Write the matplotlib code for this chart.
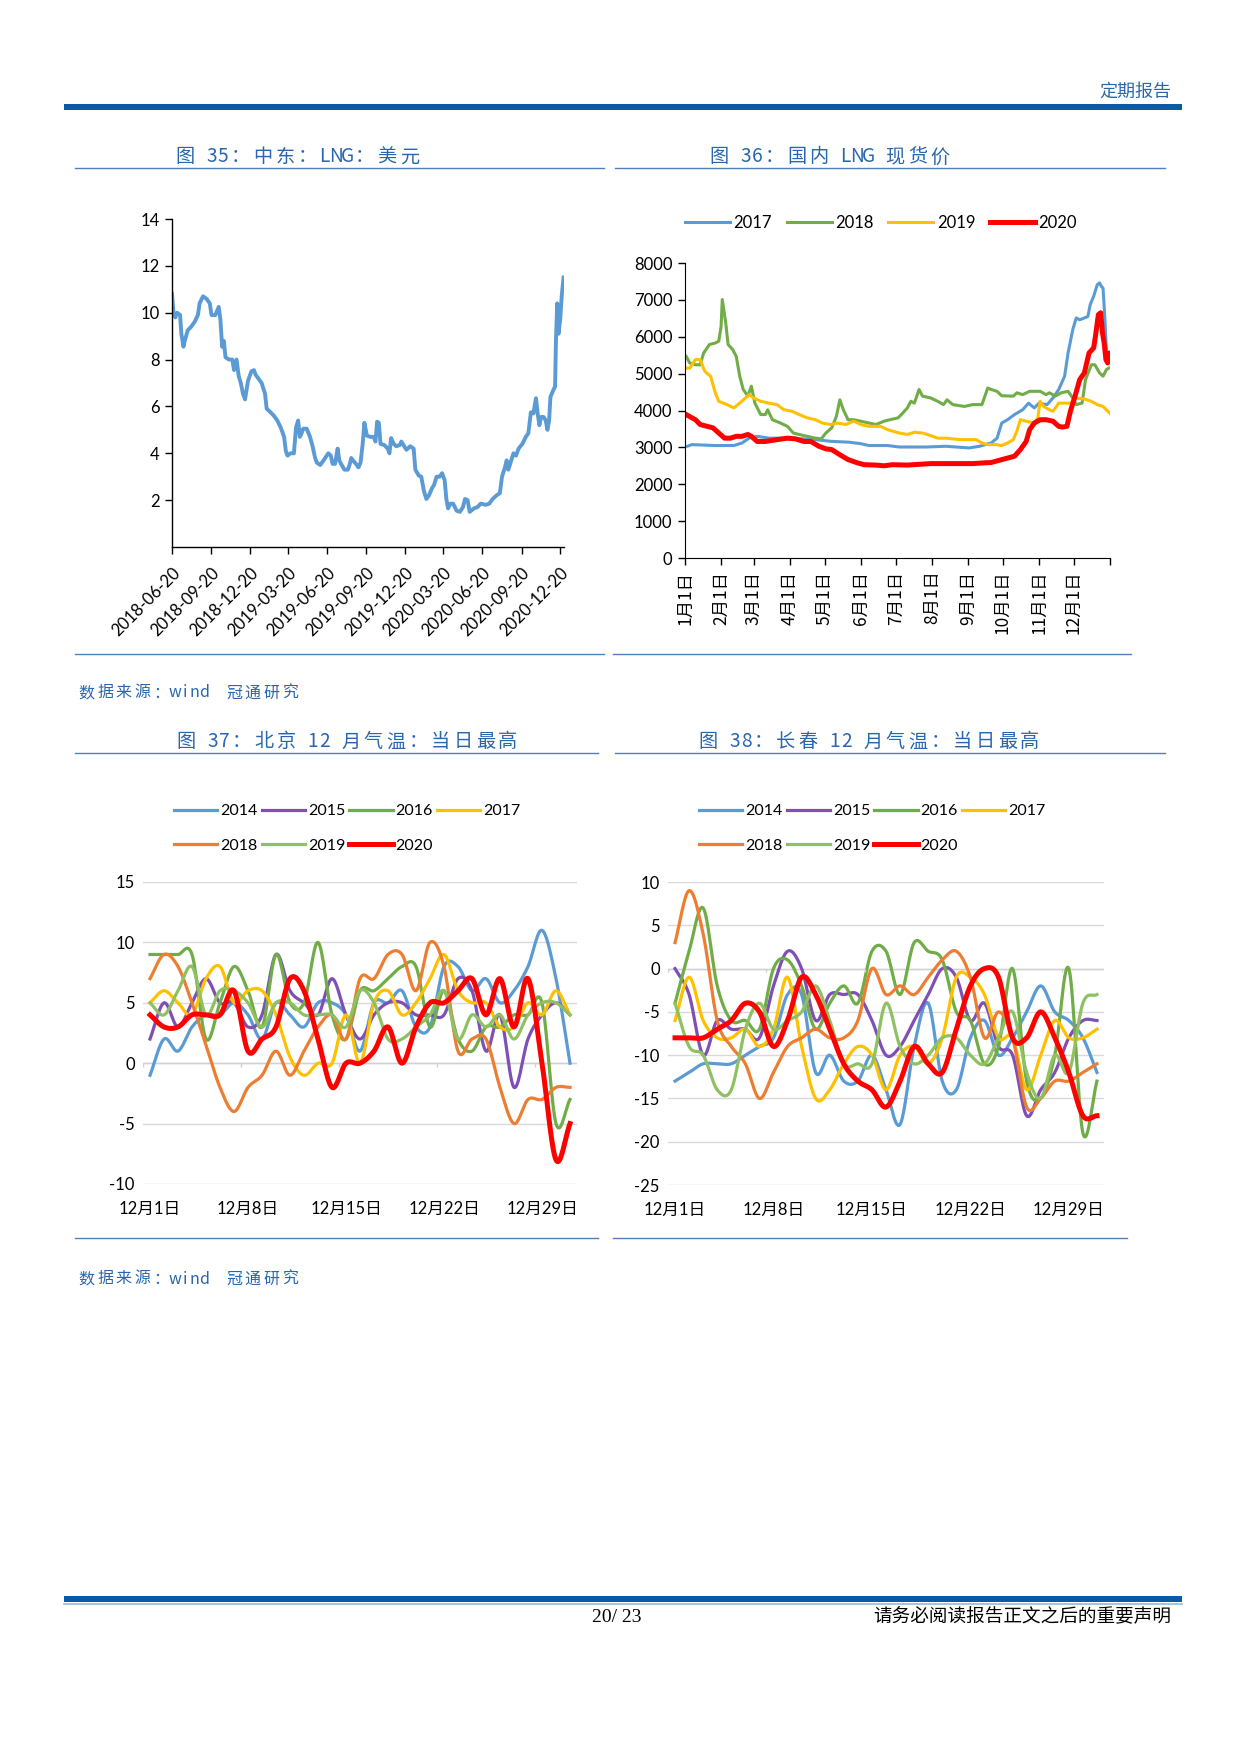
import numpy as np
import pandas as pd
import matplotlib
matplotlib.use('Agg')
import matplotlib.pyplot as plt
from matplotlib.lines import Line2D
from matplotlib.patches import Rectangle

CJK = ['Noto Sans CJK SC', 'DejaVu Sans']
NUM = ['Lato', 'Noto Sans CJK SC', 'DejaVu Sans']
plt.rcParams['font.family'] = NUM
plt.rcParams['axes.unicode_minus'] = False

W, H = 1241, 1754
BLUE_TXT = '#2a66ad'
LINE_BLUE = '#4f7fbf'

# ---------- 图35 中东LNG 美元 ----------
lng_dates = ['2018-06-20', '2018-06-24', '2018-06-28', '2018-07-02', '2018-07-09', '2018-07-12', '2018-07-17',
             '2018-07-20', '2018-07-27', '2018-08-04', '2018-08-12', '2018-08-20', '2018-08-24', '2018-09-01',
             '2018-09-09', '2018-09-17', '2018-09-21', '2018-09-30', '2018-10-08', '2018-10-12', '2018-10-16',
             '2018-10-20', '2018-10-24', '2018-11-01', '2018-11-09', '2018-11-13', '2018-11-19', '2018-11-24',
             '2018-11-29', '2018-12-04', '2018-12-09', '2018-12-16', '2018-12-24', '2018-12-30', '2019-01-03',
             '2019-01-09', '2019-01-17', '2019-01-25', '2019-01-29', '2019-02-07', '2019-02-15', '2019-02-23',
             '2019-03-03', '2019-03-11', '2019-03-15', '2019-03-19', '2019-03-26', '2019-04-03', '2019-04-08',
             '2019-04-13', '2019-04-17', '2019-04-21', '2019-04-25', '2019-05-03', '2019-05-11', '2019-05-17',
             '2019-05-23', '2019-05-27', '2019-06-04', '2019-06-12', '2019-06-23', '2019-06-29', '2019-07-03',
             '2019-07-09', '2019-07-15', '2019-07-19', '2019-07-23', '2019-07-31', '2019-08-08', '2019-08-12',
             '2019-08-16', '2019-08-20', '2019-08-27', '2019-09-02', '2019-09-07', '2019-09-12', '2019-09-16',
             '2019-09-22', '2019-09-30', '2019-10-08', '2019-10-12', '2019-10-16', '2019-10-20', '2019-10-24',
             '2019-11-02', '2019-11-10', '2019-11-14', '2019-11-18', '2019-11-24', '2019-11-30', '2019-12-08',
             '2019-12-12', '2019-12-19', '2019-12-24', '2020-01-02', '2020-01-10', '2020-01-14', '2020-01-22',
             '2020-01-28', '2020-02-03', '2020-02-09', '2020-02-15', '2020-02-22', '2020-02-27', '2020-03-04',
             '2020-03-11', '2020-03-17', '2020-03-23', '2020-03-27', '2020-03-31', '2020-04-06', '2020-04-12',
             '2020-04-20', '2020-04-28', '2020-05-05', '2020-05-10', '2020-05-16', '2020-05-21', '2020-05-31',
             '2020-06-08', '2020-06-16', '2020-06-28', '2020-07-06', '2020-07-14', '2020-07-23', '2020-07-31',
             '2020-08-05', '2020-08-12', '2020-08-16', '2020-08-20', '2020-08-27', '2020-09-01', '2020-09-07',
             '2020-09-13', '2020-09-22', '2020-09-30', '2020-10-06', '2020-10-12', '2020-10-18', '2020-10-24',
             '2020-10-28', '2020-11-01', '2020-11-05', '2020-11-11', '2020-11-16', '2020-11-20', '2020-11-24',
             '2020-11-27', '2020-12-04', '2020-12-08', '2020-12-10', '2020-12-13', '2020-12-16', '2020-12-20',
             '2020-12-24', '2020-12-28']
lng_vals = [10.8, 9.9, 9.8, 10.0, 9.9, 9.1, 8.55, 8.8, 9.25, 9.4, 9.6, 9.9, 10.4, 10.7,
            10.6, 10.4, 9.9, 9.9, 10.25, 9.7, 8.55, 8.8, 8.1, 8.0, 8.0, 7.55, 8.0, 7.3,
            7.0, 6.55, 6.3, 7.1, 7.5, 7.55, 7.35, 7.2, 7.0, 6.55, 5.9, 5.75, 5.6, 5.4,
            5.1, 4.7, 4.1, 3.9, 4.0, 4.0, 5.1, 5.4, 4.7, 4.85, 5.05, 5.05, 4.7, 4.3,
            3.8, 3.6, 3.5, 3.7, 4.0, 3.9, 3.55, 3.55, 4.2, 3.7, 3.55, 3.3, 3.3, 3.5,
            3.8, 3.7, 3.55, 3.4, 3.6, 4.4, 5.3, 4.75, 4.7, 4.7, 4.5, 5.35, 5.3, 4.4,
            4.35, 4.2, 4.0, 4.65, 4.4, 4.3, 4.35, 4.5, 4.3, 4.15, 4.3, 4.2, 3.3, 3.05,
            3.0, 2.4, 2.05, 2.2, 2.5, 2.65, 3.0, 3.0, 3.15, 2.85, 2.05, 1.65, 1.85, 1.85,
            1.55, 1.5, 1.7, 2.05, 2.0, 1.5, 1.65, 1.7, 1.85, 1.8, 1.85, 2.05, 2.2, 2.3,
            3.0, 3.4, 3.7, 3.3, 3.7, 4.0, 3.9, 4.2, 4.4, 4.7, 4.85, 5.75, 5.7, 6.35,
            5.7, 5.2, 5.55, 5.55, 5.4, 5.0, 5.4, 6.4, 6.7, 6.85, 8.8, 10.4, 9.1, 9.7,
            10.8, 11.5]
lng_ticks = ['2018-06-20', '2018-09-20', '2018-12-20', '2019-03-20', '2019-06-20', '2019-09-20',
             '2019-12-20', '2020-03-20', '2020-06-20', '2020-09-20', '2020-12-20']

# ---------- 图36 国内LNG现货价 ----------
month_days = [0, 31, 59, 90, 120, 151, 181, 212, 243, 273, 304, 334]
month_labels = ['1月1日', '2月1日', '3月1日', '4月1日', '5月1日', '6月1日',
                '7月1日', '8月1日', '9月1日', '10月1日', '11月1日', '12月1日']

d2017 = [2, 6, 26, 42, 49, 55, 62, 72, 92, 112, 125, 141, 151, 158, 174, 184, 207, 224, 244, 253,
         263, 268, 272, 277, 283, 290, 295, 300, 304, 311, 316, 321, 326, 329, 333, 336, 339, 343,
         346, 348, 351, 354, 356, 357.5, 359, 360.5, 362, 364]
v2017 = [3030, 3075, 3050, 3050, 3120, 3250, 3300, 3250, 3250, 3210, 3165, 3140, 3100, 3050, 3050,
         3010, 3010, 3030, 2985, 3030, 3120, 3250, 3660, 3750, 3890, 4020, 4200, 4070, 4200, 4160,
         4340, 4570, 4930, 5560, 6190, 6510, 6460, 6510, 6550, 6870, 7100, 7410, 7460, 7370, 7320,
         6550, 5560, 5330]

d2018 = [1, 4, 9, 13, 16, 21, 26, 29, 31, 32, 35, 37, 41, 44, 47, 50, 54, 57, 60, 65, 69, 71, 75,
         82, 88, 93, 98, 105, 112, 117, 121, 126, 130, 133, 136, 140, 145, 151, 158, 164, 171, 176,
         183, 187, 191, 194, 197, 201, 204, 211, 217, 222, 225, 230, 240, 247, 255, 260, 263, 268,
         272, 282, 285, 290, 296, 305, 310, 313, 318, 323, 329, 333, 336, 341, 344, 349, 352, 356,
         359, 362, 364]
v2018 = [5470, 5290, 5240, 5240, 5560, 5790, 5830, 5880, 6280, 7010, 6370, 5790, 5650, 5470, 4930,
         4570, 4390, 4660, 4200, 3890, 3890, 4020, 3750, 3660, 3570, 3390, 3350, 3300, 3250, 3230,
         3390, 3530, 3840, 4290, 4020, 3750, 3750, 3710, 3660, 3620, 3710, 3750, 3800, 3930, 4070,
         4250, 4200, 4570, 4390, 4340, 4250, 4160, 4290, 4160, 4110, 4160, 4160, 4610, 4570, 4520,
         4400, 4390, 4480, 4430, 4520, 4520, 4430, 4480, 4390, 4480, 4520, 4340, 4160, 4200, 4840,
         5240, 5240, 5020, 4930, 5110, 5150]

d2019 = [1, 4, 9, 13, 17, 22, 26, 29, 36, 42, 47, 55, 59, 65, 72, 79, 85, 92, 98, 105, 112, 118,
         125, 131, 138, 145, 151, 158, 168, 174, 184, 191, 197, 204, 211, 217, 224, 230, 237, 244,
         250, 255, 260, 267, 272, 277, 282, 285, 288, 293, 300, 303, 305, 308, 313, 316, 321, 326,
         331, 336, 343, 349, 354, 359, 365]
v2019 = [5150, 5150, 5380, 5380, 5060, 4930, 4480, 4250, 4160, 4070, 4200, 4430, 4340, 4250, 4200,
         4160, 4020, 3980, 3890, 3800, 3750, 3660, 3620, 3660, 3620, 3710, 3620, 3570, 3570, 3480,
         3390, 3350, 3410, 3390, 3320, 3250, 3250, 3230, 3210, 3210, 3210, 3120, 3075, 3075, 3050,
         3120, 3210, 3440, 3750, 3710, 3660, 3800, 4250, 4110, 4020, 3980, 4200, 4200, 4200, 4340,
         4310, 4250, 4160, 4110, 3920]

d2020 = [1, 6, 9, 13, 19, 24, 29, 34, 39, 44, 49, 54, 57, 62, 69, 79, 88, 95, 102, 108, 115, 121,
         126, 133, 140, 148, 154, 164, 171, 178, 191, 201, 211, 224, 237, 247, 257, 263, 270, 277,
         283, 288, 293, 296, 300, 305, 310, 316, 321, 324, 328, 331, 335, 339, 343, 347, 351, 352.5,
         355, 357, 358.5, 360, 361.5, 363, 364, 365]
v2020 = [3890, 3800, 3750, 3620, 3570, 3530, 3390, 3250, 3250, 3300, 3300, 3350, 3300, 3160, 3160,
         3210, 3250, 3230, 3160, 3160, 3030, 2960, 2940, 2800, 2670, 2580, 2530, 2520, 2500, 2530,
         2520, 2540, 2560, 2560, 2560, 2560, 2580, 2590, 2650, 2710, 2760, 2940, 3160, 3480, 3660,
         3750, 3750, 3710, 3570, 3550, 3570, 3980, 4390, 4840, 5020, 5560, 5700, 6010, 6600, 6650,
         6110, 5830, 5380, 5290, 5560, 5510]

# ---------- 图37/38 12月气温 ----------
days = list(range(1, 32))
day_ticks = [1, 8, 15, 22, 29]
day_labels = ['12月1日', '12月8日', '12月15日', '12月22日', '12月29日']
years = ['2014', '2015', '2016', '2017', '2018', '2019', '2020']
year_colors = ['#5b9bd5', '#7f4fb5', '#70ad47', '#ffc000', '#ed7d31', '#8fc062', '#ff0000']

bj_2014 = [-1, 2, 1, 3, 4, 4, 5, 4, 2, 5, 4, 3, 5, 5, 4, 1, 5, 5, 6, 3, 3, 8, 8, 6, 7, 5, 6, 8, 11, 7, 0]
bj_2015 = [2, 5, 3, 5, 7, 5, 5, 3, 4, 9, 6, 5, 4, 7, 4, 2, 4, 5, 5, 4, 4, 4, 7, 6, 1, 4, -2, 2, 4, 5, 4]
bj_2016 = [9, 9, 9, 9, 2, 5, 8, 6, 3, 9, 5, 5, 10, 4, 2, 6, 6, 7, 8, 8, 3, 6, 2, 1, 3, 3, 4, 4, 5, -5, -3]
bj_2017 = [5, 6, 5, 4, 7, 8, 5, 6, 6, 4, 0.5, -1, 0, 0, 4, 0, 5, 6, 4, 5, 7, 9, 6, 5, 5, 3, 3, 5, 4, 6, 4]
bj_2018 = [7, 9, 8, 5, 1.5, -2, -4, -2, -1, 1, -1, 1, 3, 4, 2, 7, 7, 9, 9, 6, 10, 8, 1, 2, 2, -2, -5, -3, -3, -2, -2]
bj_2019 = [5, 4, 6, 8, 4, 6, 6, 5, 3, 5, 5, 4, 4, 4, 3, 6, 5, 2, 2, 3, 4, 6, 2, 4, 3, 4, 2, 4, 5, 5, 4]
bj_2020 = [4, 3, 3, 4, 4, 4, 6, 1, 2, 3, 7, 6, 2, -2, 0, 0, 1, 3, 0, 3, 5, 5, 6, 7, 4, 7, 3, 7, 0, -8, -5]

cc_2014 = [-13, -12, -11, -11, -11, -10, -9, -8, -3, -3, -12, -10, -13, -13, -10, -14, -18, -9, -4, -13,
           -14, -8, -6, -10, -8, -5, -2, -5, -6, -8, -12]
cc_2015 = [0, -3, -10, -6, -7, -7, -8, -2, 2, 0, -6, -3, -3, -3, -6, -10, -9, -6, -3, 0, -1, -6, -4, -9,
           -10, -17, -14, -12, -8, -6, -6]
cc_2016 = [-4, 2, 7, -2, -6, -6, -7, 0, 1, -2, -7, -4, -2, -4, 2, 2, -3, 3, 2, 1, -5, -6, -11, -9, 0,
           -13, -15, -10, 0, -19, -13]
cc_2017 = [-6, -1, -6, -8, -8, -7, -9, -7, -1, -9, -15, -14, -11, -9, -10, -14, -10, -9, -11, -8, -1,
           -1, -3, -8, -8, -14, -10, -6, -8, -8, -7]
cc_2018 = [3, 9, 4, -6, -9, -11, -15, -12, -9, -8, -7, -8, -8, -6, 0, -3, -2, -3, -1, 1, 2, -1, -8, -5,
           -8, -16, -15, -13, -13, -12, -11]
cc_2019 = [-4, -9, -10, -14, -14, -7, -4, -7, -6, -5, -2, -6, -11, -11, -11, -4, -9, -11, -10, -8, -8,
           -10, -11, -8, -5, -12, -15, -10, -12, -4, -3]
cc_2020 = [-8, -8, -8, -7, -6, -4, -5, -9, -6, -1, -3, -7, -11, -13, -14, -16, -13, -9, -11, -12, -7,
           -2, 0, -1, -8, -8, -5, -8, -12, -17, -17]

bj_series = [bj_2014, bj_2015, bj_2016, bj_2017, bj_2018, bj_2019, bj_2020]
cc_series = [cc_2014, cc_2015, cc_2016, cc_2017, cc_2018, cc_2019, cc_2020]


def px_box(l, t, r, b):
    return [l / W, 1 - b / H, (r - l) / W, (b - t) / H]


def ftext(x, y, s, **kw):
    fig.text(x / W, 1 - y / H, s, **kw)


def spaced_text(x, y, s, fontsize, color, cjk_adv=1.2):
    """仿宋风格的等宽排布：逐字放置"""
    em = fontsize * 100 / 72
    for ch in s:
        if ord(ch) > 0x2e80:
            adv = cjk_adv * em
        elif ch == ' ':
            adv = 0.5 * em
        else:
            adv = 0.6 * em
        if ch != ' ':
            fig.text((x + adv / 2) / W, 1 - y / H, ch, fontsize=fontsize, color=color,
                     family=CJK, ha='center', va='center')
        x += adv


def hline(x0, x1, y, color=LINE_BLUE, lw=1.0):
    fig.add_artist(Line2D([x0 / W, x1 / W], [1 - y / H, 1 - y / H], transform=fig.transFigure,
                          color=color, lw=lw))


def bar(x0, x1, y0, h, color):
    fig.add_artist(Rectangle((x0 / W, 1 - (y0 + h) / H), (x1 - x0) / W, h / H,
                             transform=fig.transFigure, color=color, lw=0))


def smooth(x, y, n=16):
    """Excel式平滑曲线 (Catmull-Rom)"""
    x = np.asarray(x, float)
    y = np.asarray(y, float)
    px = np.r_[2 * x[0] - x[1], x, 2 * x[-1] - x[-2]]
    py = np.r_[2 * y[0] - y[1], y, 2 * y[-1] - y[-2]]
    t = np.linspace(0, 1, n, endpoint=False)
    xs, ys = [], []
    for i in range(1, len(px) - 2):
        for p, out in ((px, xs), (py, ys)):
            p0, p1, p2, p3 = p[i - 1], p[i], p[i + 1], p[i + 2]
            out.append(0.5 * (2 * p1 + (-p0 + p2) * t + (2 * p0 - 5 * p1 + 4 * p2 - p3) * t ** 2
                              + (-p0 + 3 * p1 - 3 * p2 + p3) * t ** 3))
    xs.append([x[-1]])
    ys.append([y[-1]])
    return np.concatenate(xs), np.concatenate(ys)


fig = plt.figure(figsize=(W / 100, H / 100), dpi=100)

# ---------- 页眉页脚 ----------
ftext(1171, 92, '定期报告', ha='right', va='center', fontsize=13, color=BLUE_TXT, family=CJK)
bar(64, 1182, 104, 6, '#0b5aa8')
bar(64, 1182, 1596, 6, '#0b5aa8')
hline(64, 1182, 1603.5, color='#8fbbe3', lw=1.2)
ftext(617, 1617, '20/ 23', ha='center', va='center', fontsize=14,
      family=['Liberation Serif', 'DejaVu Serif'], color='black')
ftext(1171, 1617, '请务必阅读报告正文之后的重要声明', ha='right', va='center', fontsize=13.4,
      family=CJK, color='black')

# ---------- 标题与分隔线 ----------
spaced_text(174, 157, '图 35：中东：LNG：美元', 13.8, BLUE_TXT, cjk_adv=1.17)
spaced_text(708, 157, '图 36：国内 LNG 现货价', 13.8, BLUE_TXT, cjk_adv=1.17)
hline(75, 604, 168)
hline(615, 1165, 168)
hline(75, 604, 654)
hline(613, 1131, 654)
spaced_text(77, 693, '数据来源：wind  冠通研究', 11.5, BLUE_TXT, cjk_adv=1.17)
spaced_text(175, 742, '图 37：北京 12 月气温：当日最高', 13.8, BLUE_TXT, cjk_adv=1.17)
spaced_text(697, 742, '图 38：长春 12 月气温：当日最高', 13.8, BLUE_TXT, cjk_adv=1.17)
hline(75, 598, 753)
hline(615, 1165, 753)
hline(75, 598, 1238)
hline(613, 1127, 1238)
spaced_text(77, 1279, '数据来源：wind  冠通研究', 11.5, BLUE_TXT, cjk_adv=1.17)

# ---------- 图35 ----------
ax1 = fig.add_axes(px_box(172, 219, 564, 547))
ax1.plot(pd.to_datetime(lng_dates), lng_vals, color='#5b9bd5', lw=2.8, solid_joinstyle='round')
ax1.set_ylim(0, 14)
ax1.set_yticks(range(2, 15, 2))
ax1.set_xlim(pd.Timestamp('2018-06-20'), pd.Timestamp('2020-12-29'))
ax1.set_xticks(pd.to_datetime(lng_ticks))
ax1.set_xticklabels(lng_ticks, rotation=45, ha='right', va='top', rotation_mode='anchor')
for s in ['top', 'right']:
    ax1.spines[s].set_visible(False)
for s in ['left', 'bottom']:
    ax1.spines[s].set_linewidth(1.0)
ax1.tick_params(direction='out', length=5, width=1, labelsize=12, pad=4)
ax1.tick_params(axis='x', pad=8)

# ---------- 图36 ----------
ax2 = fig.add_axes(px_box(685, 263, 1110, 558))
ax2.plot(d2017, v2017, color='#5b9bd5', lw=2.2, label='2017')
ax2.plot(d2018, v2018, color='#70ad47', lw=2.2, label='2018')
ax2.plot(d2019, v2019, color='#ffc000', lw=2.2, label='2019')
ax2.plot(d2020, v2020, color='#ff0000', lw=3.6, label='2020')
ax2.set_ylim(0, 8000)
ax2.set_yticks(range(0, 8001, 1000))
ax2.set_xlim(0, 365)
ax2.set_xticks(month_days)
ax2.set_xticklabels(month_labels, rotation=90, ha='center', va='top', family=CJK)
ax2.set_xticks([365], minor=True)
for s in ['top', 'right']:
    ax2.spines[s].set_visible(False)
ax2.tick_params(which='both', direction='out', length=5, width=1, labelsize=12, pad=4)
for lab in ax2.get_xticklabels():
    lab.set_fontsize(12.5)
ax2.legend(loc='center', bbox_to_anchor=(881 / W, 1 - 223 / H), bbox_transform=fig.transFigure,
           ncol=4, frameon=False, fontsize=12, handlelength=2.7, handletextpad=0.2,
           columnspacing=0.9, borderpad=0, borderaxespad=0)


# ---------- 图37/38 ----------
def temp_chart(box, series, ylim, lx, ly):
    ax = fig.add_axes(px_box(*box))
    lines = []
    for name, vals, c in zip(years, series, year_colors):
        xs, ys = smooth(days, vals)
        lw = 3.6 if name == '2020' else 2.3
        ln, = ax.plot(xs, ys, color=c, lw=lw, label=name, zorder=3 if name == '2020' else 2)
        lines.append(ln)
    ax.set_xlim(0.5, 31.5)
    ax.set_ylim(*ylim)
    ax.set_yticks(range(ylim[0], ylim[1] + 1, 5))
    ax.grid(axis='y', color='#d9d9d9', lw=1)
    ax.set_axisbelow(True)
    for s in ax.spines.values():
        s.set_visible(False)
    ax.axhline(0, color='#d0d0d0', lw=1, zorder=1)
    ax.vlines([0.5, 7.5, 14.5, 21.5, 28.5], 0, -(ylim[1] - ylim[0]) * 0.012, color='#d0d0d0', lw=1)
    ax.set_xticks(day_ticks)
    ax.set_xticklabels(day_labels, family=NUM)
    ax.tick_params(axis='both', length=0, labelsize=12)
    ax.tick_params(axis='y', pad=6)
    ax.tick_params(axis='x', pad=12)
    order = [0, 4, 1, 5, 2, 6, 3]
    ax.legend([lines[i] for i in order], [years[i] for i in order], loc='upper left',
              bbox_to_anchor=(lx / W, 1 - ly / H), bbox_transform=fig.transFigure,
              ncol=4, frameon=False, fontsize=11.5, handlelength=2.7, handletextpad=0.2,
              columnspacing=0.25, labelspacing=1.28, borderpad=0, borderaxespad=0)
    return ax


temp_chart((143, 882, 577, 1184), bj_series, (-10, 15), 174, 804)
temp_chart((668, 882, 1104, 1185), cc_series, (-25, 10), 699, 804)

fig.savefig('out.png', dpi=100)
